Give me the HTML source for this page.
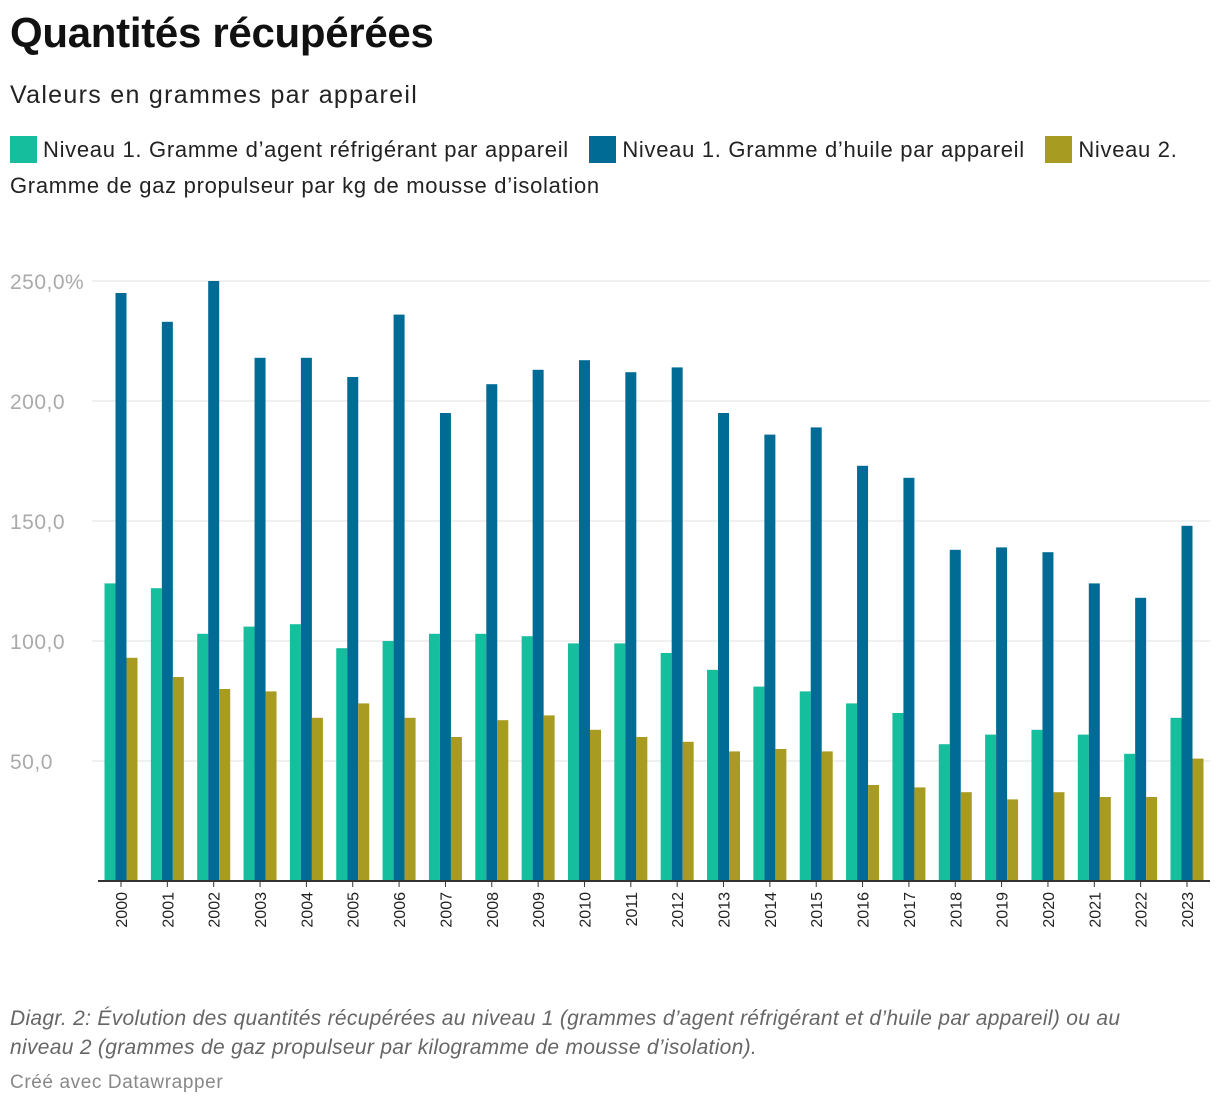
<!DOCTYPE html>
<html><head><meta charset="utf-8"><style>
body{margin:0;background:#fff;font-family:"Liberation Sans",sans-serif;width:1220px;height:1108px;overflow:hidden;position:relative}
.t{position:absolute;white-space:nowrap}
.sw{display:inline-block;width:27px;height:27px;vertical-align:-6px;margin-right:6px}
</style></head><body>
<div class="t" style="left:10px;top:9px;font-size:42px;font-weight:bold;color:#111;letter-spacing:-0.3px">Quantités récupérées</div>
<div class="t" style="left:10px;top:81px;font-size:25px;color:#222;letter-spacing:1.3px">Valeurs en grammes par appareil</div>
<div style="position:absolute;left:10px;top:132px;width:1200px;font-size:22px;color:#222;line-height:36px;letter-spacing:0.7px">
<span><span class="sw" style="background:#15bf9e"></span>Niveau 1. Gramme d’agent réfrigérant par appareil</span>&nbsp;&nbsp;
<span><span class="sw" style="background:#006b94"></span>Niveau 1. Gramme d’huile par appareil</span>&nbsp;&nbsp;
<span><span class="sw" style="background:#a89b22"></span>Niveau 2. Gramme de gaz propulseur par kg de mousse d’isolation</span>
</div>
<svg id="chart" width="1220" height="1108" style="position:absolute;left:0;top:0"></svg>
<div class="t" style="left:10px;top:1004px;font-size:21px;font-style:italic;color:#666;line-height:29px;white-space:normal;width:1200px;letter-spacing:0.3px">Diagr. 2: Évolution des quantités récupérées au niveau 1 (grammes d’agent réfrigérant et d’huile par appareil) ou au<br>niveau 2 (grammes de gaz propulseur par kilogramme de mousse d’isolation).</div>
<div class="t" style="left:10px;top:1072px;font-size:19px;color:#888;letter-spacing:0.6px">Créé avec Datawrapper</div>
<script>
const years=["2000","2001","2002","2003","2004","2005","2006","2007","2008","2009","2010","2011","2012","2013","2014","2015","2016","2017","2018","2019","2020","2021","2022","2023"];
const refrigerant=[124,122,103,106,107,97,100,103,103,102,99,99,95,88,81,79,74,70,57,61,63,61,53,68];
const oil=[245,233,250,218,218,210,236,195,207,213,217,212,214,195,186,189,173,168,138,139,137,124,118,148];
const propellant=[93,85,80,79,68,74,68,60,67,69,63,60,58,54,55,54,40,39,37,34,37,35,35,51];
const yTicks=[50,100,150,200,250];
const yTickLabels=["50,0","100,0","150,0","200,0","250,0%"];
const svg=document.getElementById('chart');const NS='http://www.w3.org/2000/svg';
const y=v=>881-v*2.4;
const x=i=>121+i*(1187-121)/23;
function mk(t,a){const e=document.createElementNS(NS,t);for(const k in a)e.setAttribute(k,a[k]);svg.appendChild(e);return e;}
yTicks.forEach((v,i)=>{
 const l=mk('line',{x1:92,x2:1210,y1:y(v),y2:y(v),stroke:'#e2e2e2','stroke-width':1});
 
 
 const t=mk('text',{x:10,y:y(v)+8,'font-size':21,fill:'#aaa','font-family':'Liberation Sans, sans-serif','letter-spacing':'0.5'});
 t.textContent=yTickLabels[i];
 
 
});
const series=[[refrigerant,'#15bf9e',-1],[oil,'#006b94',0],[propellant,'#a89b22',1]];
const bw=11;
years.forEach((yr,i)=>{
 series.forEach(([arr,c,o])=>{
  const r=mk('rect',{x:x(i)+o*bw-bw/2,y:y(arr[i]),width:bw,height:881-y(arr[i]),fill:c});
  
  
 });
 const tk=mk('line',{x1:x(i),x2:x(i),y1:881,y2:887,stroke:'#333','stroke-width':1});
 
 
 const t=mk('text',{x:0,y:0,'font-size':16,fill:'#222','text-anchor':'end','font-family':'Liberation Sans, sans-serif',transform:`translate(${x(i)+6},892) rotate(-90)`});
 t.textContent=yr;
 
 
});
const ax=mk('line',{x1:98,x2:1210,y1:881,y2:881,stroke:'#333','stroke-width':2});


</script>
</body></html>
